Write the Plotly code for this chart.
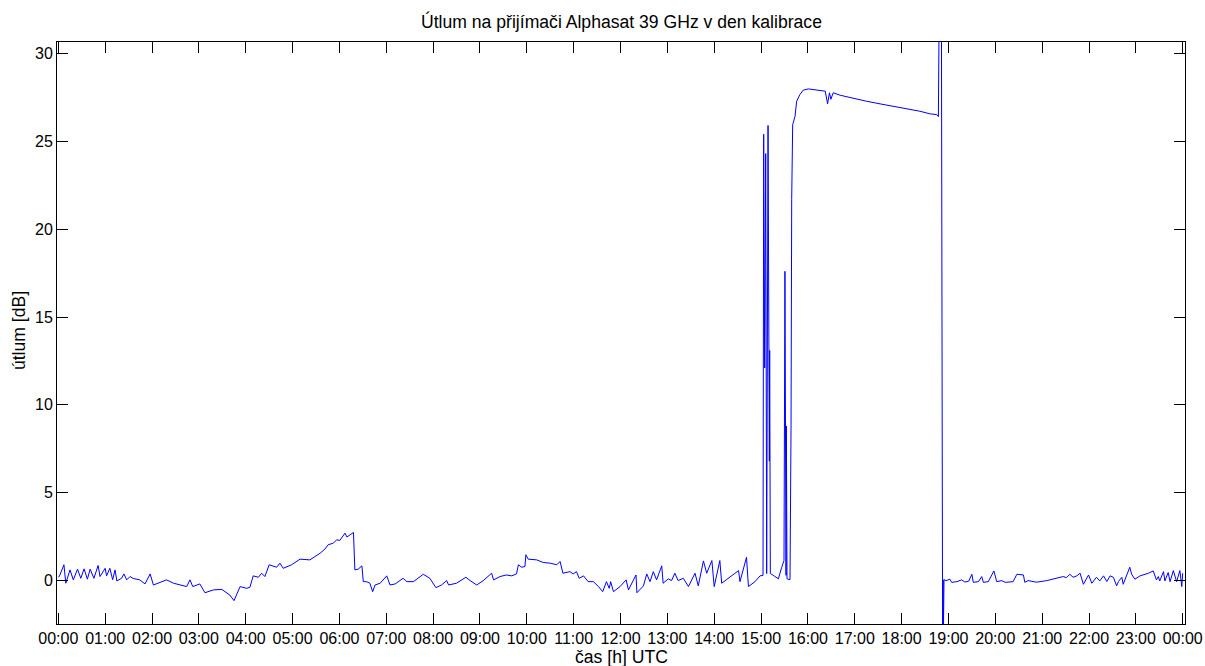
import plotly.graph_objects as go

# time of day [h] and attenuation [dB]
hours = [
    0.00, 0.02, 0.12, 0.16, 0.25, 0.32, 0.41, 0.48, 0.55, 0.62, 0.68, 0.76, 0.85, 0.89, 1.00, 1.03,
    1.10, 1.16, 1.21, 1.25, 1.35, 1.40, 1.46, 1.53, 1.60, 1.67, 1.74, 1.85, 1.96, 2.03, 2.14, 2.22,
    2.31, 2.46, 2.60, 2.74, 2.81, 2.87, 3.02, 3.13, 3.31, 3.49, 3.66, 3.75, 3.88, 4.02, 4.09, 4.16,
    4.27, 4.34, 4.41, 4.50, 4.66, 4.73, 4.80, 4.98, 5.16, 5.37, 5.48, 5.59, 5.69, 5.76, 5.87, 5.94,
    6.01, 6.12, 6.16, 6.23, 6.30, 6.33, 6.40, 6.48, 6.51, 6.58, 6.65, 6.71, 6.76, 6.87, 7.01, 7.08,
    7.19, 7.29, 7.36, 7.44, 7.58, 7.79, 7.93, 8.06, 8.18, 8.29, 8.33, 8.50, 8.70, 8.79, 8.93, 9.07,
    9.25, 9.29, 9.43, 9.56, 9.68, 9.78, 9.82, 9.89, 9.96, 9.98, 10.03, 10.21, 10.35, 10.50, 10.64,
    10.71, 10.77, 10.92, 10.99, 11.06, 11.12, 11.21, 11.31, 11.42, 11.53, 11.62, 11.70, 11.76, 11.79,
    11.85, 11.99, 12.12, 12.17, 12.33, 12.35, 12.49, 12.56, 12.63, 12.70, 12.77, 12.88, 12.91, 13.02,
    13.09, 13.16, 13.23, 13.34, 13.45, 13.59, 13.66, 13.77, 13.84, 13.95, 14.00, 14.12, 14.16, 14.34,
    14.52, 14.55, 14.69, 14.73, 14.87, 14.98,
    15.042, 15.056, 15.077, 15.099, 15.12, 15.149, 15.17, 15.177, 15.184, 15.198, 15.26, 15.37,
    15.44, 15.49, 15.51, 15.526, 15.533, 15.54, 15.554, 15.618, 15.64, 15.654, 15.675, 15.725, 15.76,
    15.83, 15.90, 16.01, 16.15, 16.26, 16.37, 16.42, 16.46, 16.49, 16.54, 16.69, 16.97, 17.25, 17.54,
    17.82, 18.11, 18.39, 18.61, 18.75, 18.785, 18.80, 18.85, 18.86, 18.875, 18.885, 18.89, 18.905,
    18.95, 19.03, 19.07, 19.18, 19.28, 19.35, 19.43, 19.50, 19.53, 19.64, 19.71, 19.745, 19.85, 19.97,
    20.03, 20.14, 20.21, 20.38, 20.46, 20.60, 20.63, 20.70, 20.88, 21.10, 21.31, 21.45, 21.52, 21.59,
    21.66, 21.74, 21.81, 21.88, 21.99, 22.06, 22.16, 22.23, 22.31, 22.38, 22.45, 22.52, 22.59, 22.63,
    22.70, 22.73, 22.87, 22.91, 22.98, 23.09, 23.27, 23.37, 23.44, 23.48, 23.51, 23.59, 23.62, 23.69,
    23.73, 23.80, 23.87, 23.94, 23.98, 24.00,
]

att_db = [
    0.20, 0.23, 0.90, -0.15, 0.61, 0.04, 0.65, 0.13, 0.67, 0.08, 0.65, 0.13, 0.86, 0.23, 0.70, 0.27,
    0.70, 0.05, 0.61, -0.02, 0.13, 0.38, 0.04, 0.23, 0.12, 0.10, 0.04, -0.19, 0.38, -0.25, -0.15, -0.05,
    0.04, -0.15, -0.25, -0.34, 0.04, -0.34, -0.19, -0.69, -0.53, -0.50, -0.82, -1.14, -0.34, -0.44, -0.38, 0.27,
    0.19, 0.42, 0.23, 0.90, 0.76, 0.99, 0.70, 0.90, 1.22, 1.18, 1.37, 1.56, 1.79, 2.04, 2.13, 2.32,
    2.29, 2.70, 2.48, 2.61, 2.74, 0.61, 0.65, 0.84, -0.06, -0.06, -0.15, -0.63, -0.25, -0.15, 0.27, -0.25,
    -0.19, 0.00, 0.13, -0.06, -0.06, 0.36, 0.13, -0.40, -0.25, 0.00, -0.25, -0.15, 0.19, 0.00, -0.25, 0.00,
    0.42, 0.04, 0.23, 0.32, 0.27, 0.38, 0.90, 0.76, 0.80, 1.47, 1.22, 1.18, 1.03, 0.99, 0.90,
    1.09, 0.42, 0.51, 0.38, 0.51, 0.13, 0.27, -0.06, -0.06, -0.34, -0.63, -0.06, -0.44, -0.06,
    -0.63, -0.34, 0.04, -0.53, 0.32, -0.69, -0.30, 0.38, -0.06, 0.51, 0.04, 0.84, -0.15, 0.10,
    0.00, 0.42, 0.00, 0.13, -0.34, 0.42, -0.30, 1.12, 0.42, 1.14, -0.34, 1.14, -0.15, 0.23,
    0.57, -0.06, 1.33, -0.34, -0.06, 0.27,
    0.30, 25.4, 12.1, 24.3, 0.40, 25.9, 13.0, 6.8, 13.1, 0.40, 0.30, 0.10,
    0.75, 1.15, 17.6, 8.8, 0.30, 8.8, 0.10, 0.05, 8.8, 21.7, 25.94, 26.42, 27.28,
    27.66, 27.91, 27.98, 27.94, 27.89, 27.85, 27.13, 27.76, 27.39, 27.76, 27.62, 27.43, 27.28, 27.13,
    27.00, 26.84, 26.71, 26.56, 26.52, 26.40, 32.0, 32.0, 14.2, -3.5, 0.05, -3.5, 0.05,
    0.00, 0.08, -0.10, -0.06, 0.04, -0.08, -0.04, 0.36, -0.10, -0.06, 0.23, -0.10, -0.06, 0.55,
    -0.06, 0.00, -0.10, -0.06, 0.36, 0.32, -0.10, 0.00, -0.09, 0.00, 0.14, 0.23, 0.17, 0.36,
    0.19, 0.27, 0.42, -0.21, 0.32, -0.15, 0.19, -0.02, 0.27, -0.05, 0.27, 0.19, -0.30, -0.05,
    0.19, -0.21, 0.76, 0.36, 0.08, 0.27, 0.42, 0.55, 0.04, 0.23, -0.02, 0.51, -0.02, 0.46,
    -0.06, 0.57, -0.06, 0.57, -0.34, 0.42,
]

x_tickvals = list(range(0, 25))
x_ticktext = [f"{h % 24:02d}:00" for h in x_tickvals]
y_tickvals = [0, 5, 10, 15, 20, 25, 30]

title_text = "Útlum na přijímači Alphasat 39 GHz v den kalibrace"
xlabel_text = "čas [h] UTC"
ylabel_text = "útlum [dB]"

FONT = "Liberation Sans, Arial, Helvetica, sans-serif"

fig = go.Figure()
fig.add_trace(go.Scatter(
    x=hours, y=att_db, mode="lines",
    line=dict(color="#0000FF", width=1),
    showlegend=False, hoverinfo="skip",
))

axis_common = dict(
    showgrid=False, zeroline=False, automargin=False,
    showline=True, linecolor="black", linewidth=1, mirror="ticks",
    ticks="inside", ticklen=11, tickwidth=1, tickcolor="black",
    tickfont=dict(family=FONT, size=16, color="black"),
)

fig.update_xaxes(range=[-0.028, 24.049], tickmode="array",
                 tickvals=x_tickvals, ticktext=x_ticktext, **axis_common)
fig.update_yaxes(range=[-2.47, 30.65], tickmode="array",
                 tickvals=y_tickvals, ticktext=[str(v) for v in y_tickvals], **axis_common)

fig.update_layout(
    width=1205, height=666,
    margin=dict(l=57, r=20, t=42, b=42, autoexpand=False),
    paper_bgcolor="white", plot_bgcolor="white",
    font=dict(family=FONT, color="black"),
    annotations=[
        dict(text=title_text, xref="paper", yref="paper", x=0.5, y=1.0344,
             xanchor="center", yanchor="middle", showarrow=False,
             font=dict(family=FONT, size=17.6, color="black")),
        dict(text=xlabel_text, xref="paper", yref="paper", x=0.5, y=-0.0567,
             xanchor="center", yanchor="middle", showarrow=False,
             font=dict(family=FONT, size=17.6, color="black")),
        dict(text=ylabel_text, xref="paper", yref="paper", x=-0.0337, y=0.505,
             xanchor="center", yanchor="middle", showarrow=False, textangle=-90,
             font=dict(family=FONT, size=17.6, color="black")),
    ],
)

fig.write_html("out.html")
